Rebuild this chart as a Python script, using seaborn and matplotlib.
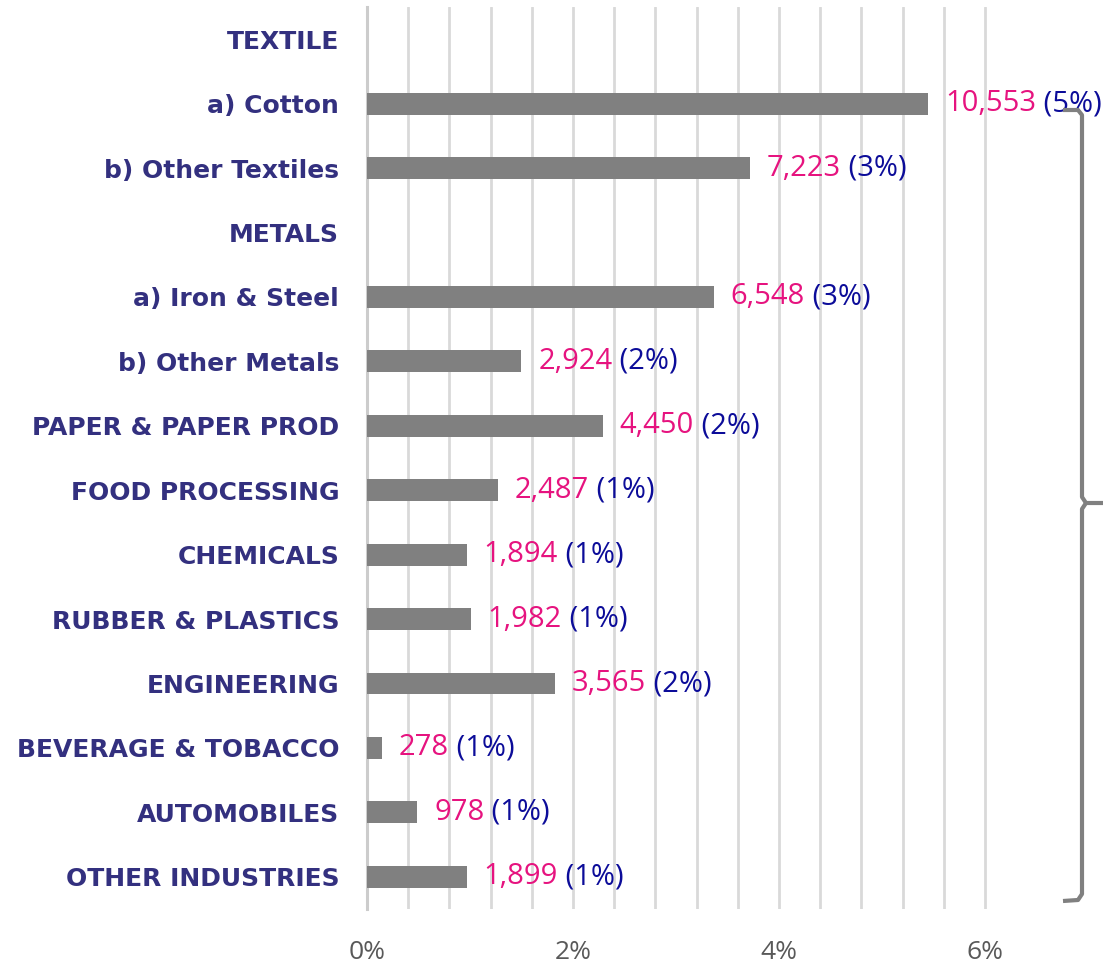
import numpy as np
import pandas as pd
import seaborn as sns
import matplotlib.pyplot as plt
from matplotlib.lines import Line2D
from matplotlib.ticker import MultipleLocator, FuncFormatter

# --- Data ---
categories = [
    "TEXTILE", "a) Cotton", "b) Other Textiles", "METALS", "a) Iron & Steel",
    "b) Other Metals", "PAPER & PAPER PROD", "FOOD PROCESSING", "CHEMICALS",
    "RUBBER & PLASTICS", "ENGINEERING", "BEVERAGE & TOBACCO", "AUTOMOBILES",
    "OTHER INDUSTRIES",
]
# bar length in percent (group headers have no bar)
bar_pct = [0.0, 5.45, 3.72, 0.0, 3.37, 1.50, 2.29, 1.27, 0.97, 1.01, 1.83, 0.15, 0.49, 0.97]
counts = [None, 10553, 7223, None, 6548, 2924, 4450, 2487, 1894, 1982, 3565, 278, 978, 1899]
share_labels = [None, "5%", "3%", None, "3%", "2%", "2%", "1%", "1%", "1%", "2%", "1%", "1%", "1%"]
x_ticks = [0, 2, 4, 6]

df = pd.DataFrame({"category": categories, "pct": bar_pct})

# --- Colours / fonts ---
CAT_COLOR = "#33307f"
COUNT_COLOR = "#e6137f"
SHARE_COLOR = "#0c0c99"
BAR_COLOR = "#808080"
GRID_COLOR = "#d9d9d9"
NUM_FONT = ["Open Sans", "DejaVu Sans"]

sns.set_style("white")
plt.rcParams["font.family"] = ["DejaVu Sans"]

fig = plt.figure(figsize=(11.03, 9.64), dpi=100)
ax = fig.add_axes([367 / 1103, 1 - 909 / 964, (987 - 367) / 1103, (909 - 7) / 964])

sns.barplot(
    data=df, x="pct", y="category", order=categories, orient="h",
    color=BAR_COLOR, saturation=1, width=0.34, linewidth=0, ax=ax, zorder=3,
)

# --- Axes formatting ---
ax.set_xlim(0, 6.02)
ax.set_ylim(len(categories) - 0.5, -0.5)
ax.xaxis.set_major_locator(plt.FixedLocator(x_ticks))
ax.xaxis.set_minor_locator(MultipleLocator(0.4))
ax.xaxis.set_major_formatter(FuncFormatter(lambda v, _: f"{v:.0f}%"))
ax.grid(axis="x", which="both", color=GRID_COLOR, linewidth=2.0, zorder=0)
ax.set_axisbelow(True)
ax.set_xlabel("")
ax.set_ylabel("")
for side in ["top", "right", "bottom"]:
    ax.spines[side].set_visible(False)
ax.spines["left"].set_color("#cccccc")
ax.spines["left"].set_linewidth(2.2)

ax.tick_params(axis="both", which="both", length=0)
ax.tick_params(axis="x", pad=22, labelsize=19, labelcolor="#595959")
ax.tick_params(axis="y", pad=20)
for lbl in ax.get_xticklabels():
    lbl.set_family(NUM_FONT)
for lbl in ax.get_yticklabels():
    lbl.set_fontsize(18)
    lbl.set_fontweight("bold")
    lbl.set_color(CAT_COLOR)

# --- Value labels: pink count + navy share ---
for i, (val, cnt, share) in enumerate(zip(bar_pct, counts, share_labels)):
    if cnt is None:
        continue
    t = ax.annotate(
        f"{cnt:,}", xy=(val, i), xytext=(12, 0), textcoords="offset points",
        va="center", ha="left", color=COUNT_COLOR, fontsize=21,
        family=NUM_FONT, annotation_clip=False,
    )
    ax.annotate(
        f" ({share})", xy=(1, 0), xycoords=t, va="bottom", ha="left",
        color=SHARE_COLOR, fontsize=21, family=NUM_FONT, annotation_clip=False,
    )

# --- Right-hand curly bracket ---
W, H = 1103, 964
def to_fig(pts):
    xs = [p[0] / W for p in pts]
    ys = [1 - p[1] / H for p in pts]
    return xs, ys

upper = [(1063, 110), (1078, 110), (1082, 115), (1082, 497), (1086, 503), (1103, 503)]
lower = [(1086, 503), (1082, 509), (1082, 894), (1078, 900), (1063, 901)]
for pts in (upper, lower):
    xs, ys = to_fig(pts)
    fig.add_artist(Line2D(xs, ys, transform=fig.transFigure, color=BAR_COLOR,
                          linewidth=3.0, solid_joinstyle="round", solid_capstyle="butt"))

plt.savefig("out.png", dpi=100)
